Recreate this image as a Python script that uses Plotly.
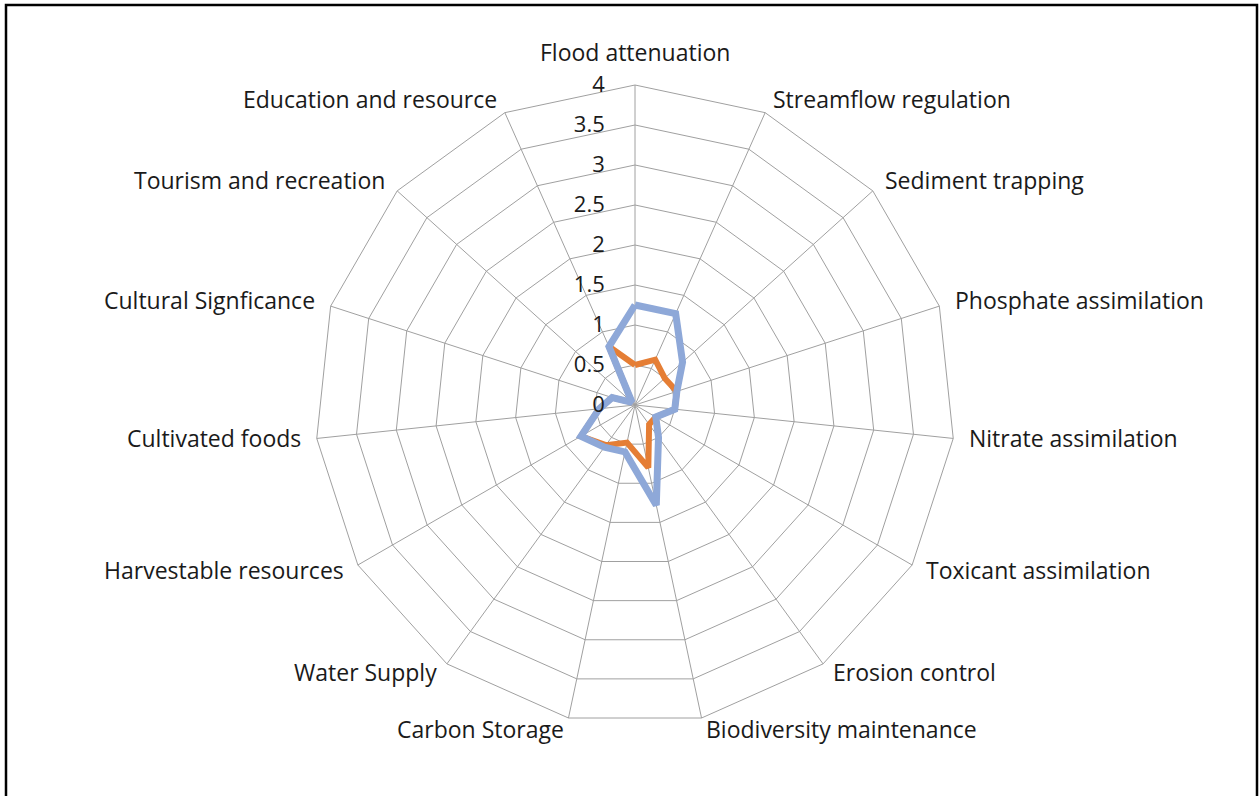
import math
import plotly.graph_objects as go

categories = ["Flood attenuation", "Streamflow regulation", "Sediment trapping",
              "Phosphate assimilation", "Nitrate assimilation", "Toxicant assimilation",
              "Erosion control", "Biodiversity maintenance", "Carbon Storage",
              "Water Supply", "Harvestable resources", "Cultivated foods",
              "Cultural Signficance", "Tourism and recreation", "Education and resource"]
series_blue = [1.25, 1.25, 0.8, 0.55, 0.5, 0.3, 0.5, 1.28, 0.6, 0.65, 0.78, 0.45, 0.3, 0.05, 0.8]
series_orange = [0.5, 0.62, 0.5, 0.55, 0.5, 0.3, 0.3, 0.8, 0.48, 0.62, 0.78, 0.45, 0.3, 0.05, 0.8]
radial_ticks = [0, 0.5, 1, 1.5, 2, 2.5, 3, 3.5, 4]
radial_labels = ["0", "0.5", "1", "1.5", "2", "2.5", "3", "3.5", "4"]

W, H = 1260, 796
FONT = "Open Sans"
TXT = "#1a1a1a"

fig = go.Figure()
fig.add_trace(go.Scatterpolar(
    r=series_orange + [series_orange[0]], theta=categories + [categories[0]],
    mode="lines", line=dict(color="#E57E35", width=6), showlegend=False, hoverinfo="skip"))
fig.add_trace(go.Scatterpolar(
    r=series_blue + [series_blue[0]], theta=categories + [categories[0]],
    mode="lines", line=dict(color="#8EA8D8", width=7), showlegend=False, hoverinfo="skip"))

# centre and radius of the web (pixels)
cx, cy, R = 635, 405, 320

annotations = []
n = len(categories)
for i, name in enumerate(categories):
    th = math.radians(360.0 * i / n)
    s, c = math.sin(th), math.cos(th)
    vx, vy = cx + R * s, cy - R * c
    if abs(s) < 0.05:
        ax_, ay_, xa, ya = vx, vy - 15, "center", "bottom"
    else:
        gap = 14 * abs(s)
        ax_ = vx + (gap if s > 0 else -gap)
        ay_ = vy - 13 * c - 2
        xa = "left" if s > 0 else "right"
        ya = "middle"
    annotations.append(dict(text=name, x=ax_ / W, y=1 - ay_ / H, xref="paper", yref="paper",
                            xanchor=xa, yanchor=ya, showarrow=False,
                            font=dict(family=FONT, size=23, color=TXT)))

fig.update_layout(
    width=W, height=H,
    margin=dict(l=0, r=0, t=0, b=0),
    paper_bgcolor="white", plot_bgcolor="white",
    font=dict(family=FONT, size=22, color=TXT),
    polar=dict(
        domain=dict(x=[(cx - R) / W, (cx + R) / W], y=[(H - cy - R) / H, (H - cy + R) / H]),
        bgcolor="white",
        gridshape="linear",
        angularaxis=dict(direction="clockwise", rotation=90, type="category",
                         categoryorder="array", categoryarray=categories,
                         gridcolor="#A0A0A0", gridwidth=1, linecolor="#A0A0A0", linewidth=1,
                         ticks="", showticklabels=False),
        radialaxis=dict(range=[0, 4], tickvals=radial_ticks, ticktext=radial_labels,
                        angle=90, tickangle=90, side="counterclockwise",
                        showline=False, ticks="outside", ticklen=22, tickcolor="rgba(0,0,0,0)",
                        gridcolor="#A0A0A0", gridwidth=1,
                        tickfont=dict(family=FONT, size=22, color=TXT)),
    ),
    annotations=annotations,
    shapes=[dict(type="rect", xref="paper", yref="paper", x0=6 / W, x1=1257 / W,
                 y0=-0.02, y1=1 - 5 / H, line=dict(color="black", width=2.5))],
)

fig.write_html("out.html", config={"displayModeBar": False},
               post_script="document.body.style.margin='0';document.body.style.overflow='hidden';")
